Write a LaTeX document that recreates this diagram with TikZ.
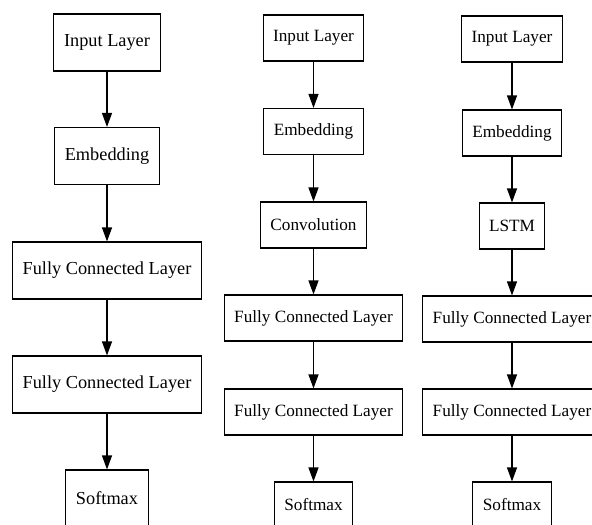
\documentclass[tikz,border=0pt]{standalone}
\usepackage{fontspec}
\setmainfont{Liberation Serif}
\usepackage{tikz}
\usetikzlibrary{positioning,arrows.meta}
\tikzstyle{layer} = [draw, line width=1.1pt, inner xsep=10.5pt, minimum height=57pt, font=\fontsize{18.3}{20}\selectfont]
\tikzstyle{layersm} = [draw, line width=1.1pt, inner xsep=10pt, minimum height=46pt, font=\fontsize{17.2}{19}\selectfont]
\tikzstyle{flow} = [line width=1.1pt, -{Triangle[length=14pt,width=10pt]}]

\begin{document}
\begin{tikzpicture}[x=1pt,y=-1pt]
			\useasboundingbox (0,0) rectangle (592,525);
			% dense model
			\node[layer] (a1) at (107, 42.5) {Input Layer};
			\node[layer] (a2) at (107, 156) {Embedding};
			\node[layer] (a3) at (107, 270.5) {Fully Connected Layer};
			\node[layer] (a4) at (107, 384.5) {Fully Connected Layer};
			\node[layer] (a5) at (107, 498.5) {Softmax};
			\draw[flow] (a1) -- (a2);
			\draw[flow] (a2) -- (a3);
			\draw[flow] (a3) -- (a4);
			\draw[flow] (a4) -- (a5);
			% convolution model
			\node[layersm] (b1) at (313.5, 38) {Input Layer};
			\node[layersm] (b2) at (313.5, 131.5) {Embedding};
			\node[layersm] (b3) at (313.5, 225) {Convolution};
			\node[layersm] (b4) at (313.5, 318) {Fully Connected Layer};
			\node[layersm] (b5) at (313.5, 412) {Fully Connected Layer};
			\node[layersm] (b6) at (313.5, 505) {Softmax};
			\draw[flow] (b1) -- (b2);
			\draw[flow] (b2) -- (b3);
			\draw[flow] (b3) -- (b4);
			\draw[flow] (b4) -- (b5);
			\draw[flow] (b5) -- (b6);
			% lstm model
			\node[layersm] (c1) at (512, 39) {Input Layer};
			\node[layersm] (c2) at (512, 133) {Embedding};
			\node[layersm] (c3) at (512, 226) {LSTM};
			\node[layersm] (c4) at (512, 319) {Fully Connected Layer};
			\node[layersm] (c5) at (512, 412) {Fully Connected Layer};
			\node[layersm] (c6) at (512, 505) {Softmax};
			\draw[flow] (c1) -- (c2);
			\draw[flow] (c2) -- (c3);
			\draw[flow] (c3) -- (c4);
			\draw[flow] (c4) -- (c5);
			\draw[flow] (c5) -- (c6);
		\end{tikzpicture}
\end{document}
